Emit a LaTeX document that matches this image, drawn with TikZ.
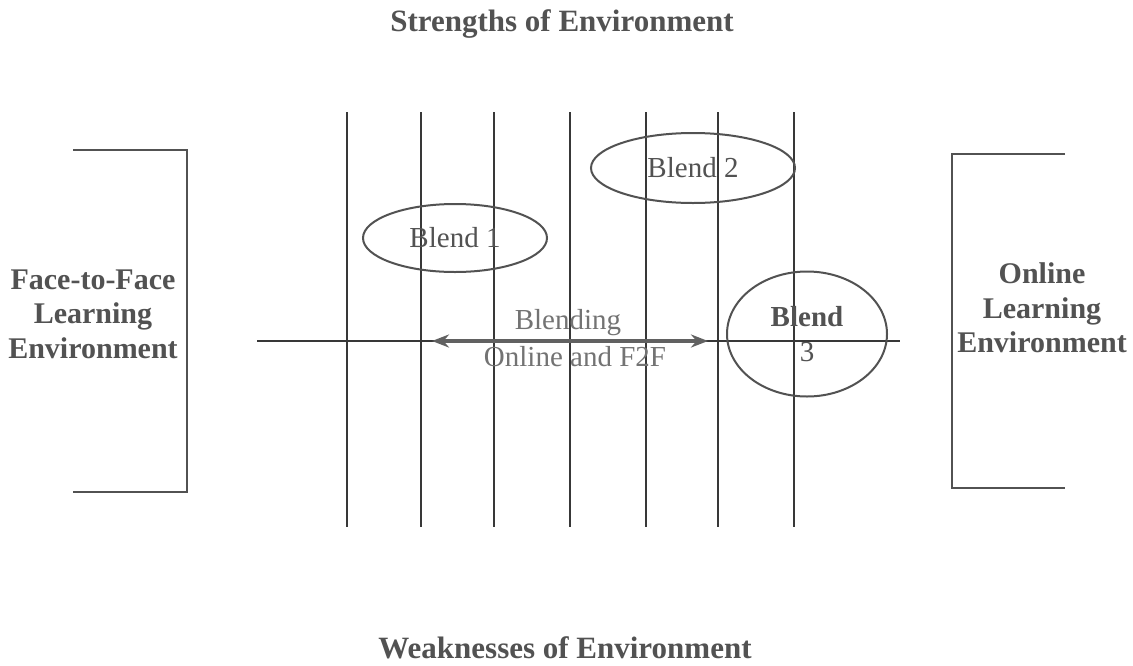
\documentclass[tikz,border=0pt]{standalone}
\usepackage{fontspec}
\setmainfont{Liberation Serif}
\usetikzlibrary{shapes.geometric,arrows.meta}
\definecolor{ink}{gray}{0.32}
\definecolor{rule}{gray}{0.22}
\tikzset{
  heading/.style={font=\fontsize{31}{35}\selectfont\bfseries, text=ink, inner sep=0pt},
  envlabel/.style={font=\fontsize{30}{34.5}\selectfont\bfseries, text=ink, align=center, inner sep=0pt},
  blendlabel/.style={ellipse, draw=ink, line width=2pt, inner sep=0pt,
    font=\fontsize{29}{35}\selectfont, text=ink, align=center},
  gridline/.style={draw=rule, line width=1.1pt},
  bracketline/.style={draw=ink, line width=2pt},
  blendarrow/.style={draw=black!62, line width=3.4pt, {Stealth[length=17pt,width=13pt]}-{Stealth[length=17pt,width=13pt]}},
  midlabel/.style={font=\fontsize{29}{34}\selectfont, text=black!55, inner sep=0pt}
}
\begin{document}
\begin{tikzpicture}[x=1pt,y=-1pt]
\useasboundingbox[fill=white] (0,0) rectangle (1133,665);

% headings
\node[heading] (strengths) at (562,24) {Strengths of Environment};
\node[heading] (weaknesses) at (565,648) {Weaknesses of Environment};

% vertical scale lines
\foreach \xx in {347,421,494,570,646,718,794}
  \draw[gridline] (\xx,112) -- (\xx,527);

% horizontal axis
\coordinate (axisL) at (257,341);
\coordinate (axisR) at (900,341);
\draw[gridline] (axisL) -- (axisR);

% left environment
\node[envlabel] (f2f) at (93,314) {Face-to-Face\\Learning\\Environment};
\draw[bracketline] (73,150) -- (187,150) -- (187,492) -- (73,492);

% right environment
\node[envlabel] (online) at (1042,308) {Online\\Learning\\Environment};
\draw[bracketline] (1065,154) -- (952,154) -- (952,488) -- (1065,488);

% blends
\node[blendlabel, minimum width=184pt, minimum height=68pt] (b1) at (455,238) {Blend 1};
\node[blendlabel, minimum width=204pt, minimum height=70pt] (b2) at (693,168) {Blend 2};
\node[blendlabel, minimum width=160pt, minimum height=125pt] (b3) at (807,334) {\textbf{Blend}\\3};

% blending arrow
\coordinate (arrL) at (432,341);
\coordinate (arrR) at (708,341);
\draw[blendarrow] (arrL) -- (arrR);
\node[midlabel] (blending) at (568,323) {Blending};
\node[midlabel] (onf2f) at (575,357) {Online and F2F};
\end{tikzpicture}
\end{document}
